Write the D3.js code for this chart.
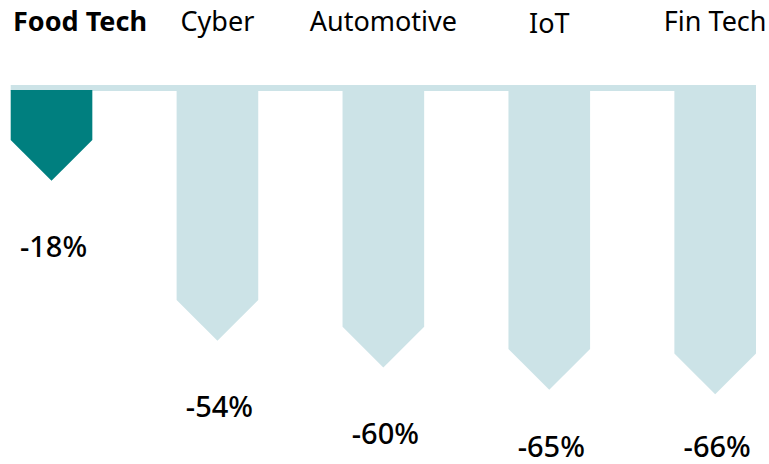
<!DOCTYPE html>
<html>
<head>
<meta charset="utf-8">
<script src="https://cdn.jsdelivr.net/npm/d3@7"></script>
<style>
  html, body { margin: 0; padding: 0; background: #fff; }
  svg { display: block; font-family: "Noto Sans", "Open Sans", sans-serif; }
</style>
</head>
<body>
<div id="chart"></div>
<script>
// ---- Data ----
var categories = ['Food Tech', 'Cyber', 'Automotive', 'IoT', 'Fin Tech'];
var changes = [-18, -54, -60, -65, -66];
var highlight = ['Food Tech'];

var WIDTH = 769, HEIGHT = 464;
var TEAL = '#007f7f', PALE = '#cce3e7';

var svg = d3.select('#chart').append('svg')
  .attr('width', WIDTH)
  .attr('height', HEIGHT);

// Horizontal placement of the arrows
var x = d3.scaleBand()
  .domain(categories)
  .range([10.7, 756])
  .paddingInner(0.508)
  .paddingOuter(0);

// Value -> depth of arrow tip
var y = d3.scaleLinear()
  .domain([0, -70])
  .range([100.8, 412]);

var barTop = 90;
var bw = x.bandwidth();

var rows = categories.map(function (c, i) {
  return { name: c, value: changes[i], hi: highlight.indexOf(c) >= 0 };
});

// Baseline strip across all arrows
svg.append('rect')
  .attr('x', x(categories[0]))
  .attr('y', 85)
  .attr('width', x(categories[categories.length - 1]) + bw - x(categories[0]))
  .attr('height', 6)
  .attr('fill', PALE);

// Arrow-shaped bars
function arrowPath(d) {
  var x0 = x(d.name), x1 = x0 + bw, cx = x0 + bw / 2;
  var tip = y(d.value);
  var shoulder = tip - bw / 2;
  return 'M' + x0 + ',' + barTop + 'L' + x1 + ',' + barTop + 'L' + x1 + ',' + shoulder +
    'L' + cx + ',' + tip + 'L' + x0 + ',' + shoulder + 'Z';
}

svg.append('g').selectAll('path')
  .data(rows)
  .enter().append('path')
  .attr('d', arrowPath)
  .attr('fill', function (d) { return d.hi ? TEAL : PALE; });

// Category headers
svg.append('g').selectAll('text')
  .data(rows)
  .enter().append('text')
  .attr('y', function (d) { return d.name === 'IoT' ? 33 : 31; })
  .attr('font-size', 27)
  .attr('font-weight', function (d) { return d.hi ? 700 : 400; })
  .attr('fill', '#000')
  .attr('text-anchor', 'middle')
  .text(function (d) { return d.name; })
  .attr('x', function (d) {
    var w = this.getComputedTextLength();
    var cx = x(d.name) + bw / 2;
    return Math.max(cx, 13 + w / 2);
  });

// Value labels under the arrow tips
svg.append('g').selectAll('text')
  .data(rows)
  .enter().append('text')
  .attr('x', function (d) { return x(d.name) + bw / 2 + 2; })
  .attr('y', function (d) { return Math.min(y(d.value) + 76, 457); })
  .attr('font-size', 29)
  .attr('font-weight', 500)
  .attr('fill', '#000')
  .attr('text-anchor', 'middle')
  .text(function (d) { return d.value + '%'; });
</script>
</body>
</html>
